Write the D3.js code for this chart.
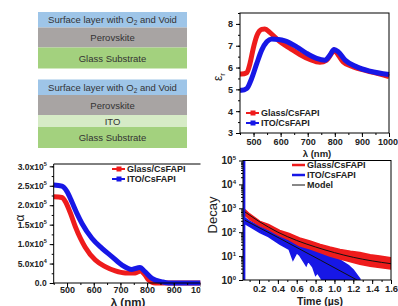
<!DOCTYPE html>
<html>
<head>
<meta charset="utf-8">
<script src="https://cdn.jsdelivr.net/npm/d3@7"></script>
<style>
  body { margin: 0; background: #fff; }
  svg text { font-family: "Liberation Sans", Arial, sans-serif; fill: #222; }
</style>
</head>
<body>
<script>
// ---- data ----
var stackA = ['surface', 'Perovskite', 'Glass Substrate'];
var stackB = ['surface', 'Perovskite', 'ITO', 'Glass Substrate'];

// permittivity, [wavelength nm, eps_r]
var epsGlass = [[450,5.70],[456,5.70],[475,5.76],[487,6.19],[499,6.88],[512,7.45],[530,7.75],[542,7.77],[561,7.60],
  [598,7.18],[635,6.88],[671,6.60],[708,6.37],[745,6.24],[770,6.34],[788,6.65],[797,6.80],[813,6.57],[831,6.26],
  [868,6.03],[918,5.85],[967,5.70],[1000,5.58]];
var epsIto = [[450,4.96],[456,4.96],[475,5.04],[493,5.50],[512,6.19],[530,6.80],[549,7.18],[567,7.31],[592,7.29],
  [616,7.22],[659,6.95],[696,6.65],[733,6.42],[764,6.34],[782,6.57],[797,6.83],[813,6.72],[838,6.34],[881,6.03],
  [930,5.83],[1000,5.68]];

// absorption coefficient, [wavelength nm, alpha]
var alphaGlass = [[450,2.22e5],[481,2.20e5],[494,2.09e5],[513,1.79e5],[531,1.45e5],[550,1.15e5],[568,0.92e5],
  [606,0.59e5],[643,0.42e5],[681,0.31e5],[718,0.26e5],[756,0.26e5],[775,0.31e5],[793,0.20e5],[805,0.08e5],
  [818,0.02e5],[831,0],[1000,0]];
var alphaIto = [[450,2.52e5],[481,2.49e5],[500,2.35e5],[518,2.09e5],[537,1.79e5],[556,1.53e5],[593,1.15e5],
  [631,0.89e5],[668,0.68e5],[706,0.46e5],[743,0.35e5],[773,0.40e5],[792,0.29e5],[818,0.12e5],[856,0.03e5],
  [881,0],[1000,0]];
var alphaTicks = [[0,'0.0',''],[5e4,'5.0x10','4'],[1e5,'1.0x10','5'],[1.5e5,'1.5x10','5'],
  [2e5,'2.0x10','5'],[2.5e5,'2.5x10','5'],[3e5,'3.0x10','5']];

// decay, [time us, low, high] envelopes of the noisy traces
var decayGlass = [[0.04,560,950],[0.1,340,580],[0.21,185,285],[0.3,130,210],[0.42,70,118],[0.52,48,88],
  [0.63,27,58],[0.74,20,43],[0.85,14,31],[0.95,10,24],[1.06,7.5,19],[1.17,5.8,16],[1.27,4.6,14],
  [1.38,3.8,11.5],[1.48,3.3,10],[1.6,2.9,8.5]];
var decayIto = [[0.04,240,420],[0.1,175,290],[0.21,96,170],[0.3,66,116],[0.42,32,70],[0.52,19,46],
  [0.56,7,41],[0.6,14,34],[0.63,11,30],[0.7,4,26],[0.72,6.3,25],[0.77,3.5,22],[0.8,1.6,20],[0.82,2,19],
  [0.87,1,16],[0.95,1,11],[1.06,1,6.8],[1.15,1,4],[1.2,1,2.6],[1.27,1,1.1]];
var modelGlass = [[0.05,708],[0.2,282],[0.4,100],[0.6,45],[0.8,24],[1.0,14],[1.2,8.9],[1.4,6.3],[1.6,4.8]];
var modelIto = [[0.05,316],[0.42,55],[0.85,6.8],[1.24,1]];

var red = '#ee1c1c', blue = '#1717e6';

var svg = d3.select('body').append('svg')
  .attr('width', 398).attr('height', 306);

// ---- layer stacks ----
var layerStyle = {
  'surface': { fill: '#9ec5e8', h: 15.5 },
  'Perovskite': { fill: '#a8a4a3', h: 20 },
  'ITO': { fill: '#d6ebc6', h: 12 },
  'Glass Substrate': { fill: '#a3d17e', h: 21 }
};

function drawStack(layers, top) {
  var g = svg.append('g');
  var y = top;
  layers.forEach(function(name) {
    var st = layerStyle[name];
    g.append('rect').attr('x', 38).attr('y', y).attr('width', 149).attr('height', st.h)
      .attr('fill', st.fill);
    var t = g.append('text').attr('x', 112.5).attr('y', y + st.h / 2 + 3.5)
      .attr('text-anchor', 'middle').attr('font-size', 9.5).style('fill', '#333');
    if (name == 'surface') {
      t.append('tspan').text('Surface layer with O');
      t.append('tspan').attr('font-size', 6.5).attr('dy', 2).text('2');
      t.append('tspan').attr('dy', -2).text(' and Void');
    } else {
      t.text(name);
    }
    y += st.h;
  });
}
drawStack(stackA, 12);
drawStack(stackB, 79.5);

// helper for minor + major ticks
function ticks(g, axis, scale, major, minor, fmt, size) {
  g.call(axis(scale).tickValues(minor).tickSize(2).tickFormat(''))
    .call(function(s) { s.select('.domain').remove(); });
  var m = g.append('g').call(axis(scale).tickValues(major).tickSize(size || 4)
    .tickSizeOuter(0).tickFormat(fmt));
  m.select('.domain').remove();
  return m;
}

function legend(g, x, y, color, label, marker) {
  g.append('line').attr('x1', x).attr('x2', x + 13).attr('y1', y).attr('y2', y)
    .attr('stroke', color).attr('stroke-width', marker ? 2 : 2.5);
  if (marker) {
    g.append('rect').attr('x', x + 4.5).attr('y', y - 2.5).attr('width', 5).attr('height', 5).attr('fill', color);
  }
  g.append('text').attr('x', x + 15).attr('y', y + 3.3).attr('font-size', 9)
    .attr('font-weight', 'bold').text(label);
}

var intFmt = d3.format('d');

// ---- eps_r panel ----
(function() {
  var g = svg.append('g');
  var x = d3.scaleLinear().domain([450, 1000]).range([240, 389]);
  var y = d3.scaleLinear().domain([3, 8.5]).range([133, 13]);
  var line = d3.line().x(function(d) { return x(d[0]); }).y(function(d) { return y(d[1]); })
    .curve(d3.curveMonotoneX);
  g.append('path').datum(epsGlass).attr('d', line).attr('fill', 'none')
    .attr('stroke', red).attr('stroke-width', 5).attr('stroke-linejoin', 'round');
  g.append('path').datum(epsIto).attr('d', line).attr('fill', 'none')
    .attr('stroke', blue).attr('stroke-width', 5).attr('stroke-linejoin', 'round');

  var xa = g.append('g').attr('transform', 'translate(0,133)');
  ticks(xa, d3.axisBottom, x, d3.range(500, 1001, 100), d3.range(450, 1001, 50), intFmt)
    .selectAll('text').attr('font-size', 9).attr('font-weight', 'bold').attr('dy', '0.6em')
    .attr('dx', function(d) { return d == 1000 ? -1.5 : 0; });
  var ya = g.append('g').attr('transform', 'translate(240,0)');
  ticks(ya, d3.axisLeft, y, d3.range(3, 9), d3.range(3, 8.6, 0.5), intFmt)
    .selectAll('text').attr('font-size', 9).attr('font-weight', 'bold');
  g.selectAll('.tick line').attr('stroke', '#000');
  g.append('rect').attr('x', 240).attr('y', 13).attr('width', 149).attr('height', 120)
    .attr('fill', 'none').attr('stroke', '#000');

  legend(g, 246, 113, red, 'Glass/CsFAPI', true);
  legend(g, 246, 123, blue, 'ITO/CsFAPI', true);

  var yl = g.append('text').attr('transform', 'translate(222,77) rotate(-90)')
    .attr('text-anchor', 'middle').attr('font-size', 12);
  yl.append('tspan').text('ε');
  yl.append('tspan').attr('font-size', 8).attr('dy', 3).text('r');
  g.append('text').attr('x', 317).attr('y', 157).attr('text-anchor', 'middle')
    .attr('font-size', 9.5).attr('font-weight', 'bold').text('λ (nm)');
})();

// ---- alpha panel ----
(function() {
  svg.append('clipPath').attr('id', 'clipA').append('rect')
    .attr('x', 0).attr('y', 150).attr('width', 200.5).attr('height', 156);
  var g = svg.append('g').attr('clip-path', 'url(#clipA)');
  var x = d3.scaleLinear().domain([450, 1000]).range([53.7, 200.5]);
  var y = d3.scaleLinear().domain([0, 3.06e5]).range([283, 164]);
  var line = d3.line().x(function(d) { return x(d[0]); }).y(function(d) { return y(d[1]); })
    .curve(d3.curveMonotoneX);
  g.append('path').datum(alphaGlass).attr('d', line).attr('fill', 'none')
    .attr('stroke', red).attr('stroke-width', 5).attr('stroke-linejoin', 'round');
  g.append('path').datum(alphaIto).attr('d', line).attr('fill', 'none')
    .attr('stroke', blue).attr('stroke-width', 5).attr('stroke-linejoin', 'round');

  var xa = g.append('g').attr('transform', 'translate(0,283)');
  ticks(xa, d3.axisBottom, x, d3.range(500, 1001, 100), d3.range(450, 1001, 50), intFmt)
    .selectAll('text').attr('font-size', 9).attr('font-weight', 'bold').attr('dy', '0.3em');
  var ya = g.append('g').attr('transform', 'translate(53.7,0)');
  var lbl = {};
  alphaTicks.forEach(function(t) { lbl[t[0]] = t; });
  var m = ticks(ya, d3.axisLeft, y, alphaTicks.map(function(t) { return t[0]; }), d3.range(0, 3.01e5, 2.5e4), function() { return ''; });
  m.selectAll('text').attr('font-size', 8.5).attr('font-weight', 'bold').each(function(v) {
    var t = d3.select(this);
    t.append('tspan').text(lbl[v][1]);
    if (lbl[v][2]) t.append('tspan').attr('font-size', 5.5).attr('dy', -4).text(lbl[v][2]);
  });
  g.selectAll('.tick line').attr('stroke', '#000');
  g.append('path').attr('d', 'M53.7,164H201M53.7,164V283H201')
    .attr('fill', 'none').attr('stroke', '#000');

  legend(g, 112, 169, red, 'Glass/CsFAPI', true);
  legend(g, 112, 179, blue, 'ITO/CsFAPI', true);

  g.append('text').attr('transform', 'translate(24,218) rotate(-90)')
    .attr('text-anchor', 'middle').attr('font-size', 12).text('α');
  g.append('text').attr('x', 128).attr('y', 305.5).attr('text-anchor', 'middle')
    .attr('font-size', 11.5).attr('font-weight', 'bold').text('λ (nm)');
})();

// ---- decay panel ----
(function() {
  svg.append('clipPath').attr('id', 'clipD').append('rect')
    .attr('x', 243).attr('y', 160.5).attr('width', 148).attr('height', 119.5);
  var g = svg.append('g');
  var x = d3.scaleLinear().domain([0.03, 1.6]).range([243, 391]);
  var y = d3.scaleLog().domain([1, 1e5]).range([280, 160.5]);
  var band = d3.area().x(function(d) { return x(d[0]); })
    .y0(function(d) { return y(d[1]); }).y1(function(d) { return y(d[2]); });
  var pl = g.append('g').attr('clip-path', 'url(#clipD)');
  pl.append('path').datum(decayIto).attr('d', band).attr('fill', blue)
    .attr('stroke', blue).attr('stroke-width', 1.5);
  pl.append('path').datum(decayGlass).attr('d', band).attr('fill', red)
    .attr('stroke', red).attr('stroke-width', 1.5);
  // instrument spikes at the start
  pl.append('line').attr('x1', x(0.03)).attr('x2', x(0.03)).attr('y1', y(1)).attr('y2', y(900))
    .attr('stroke', red).attr('stroke-width', 2);
  pl.append('line').attr('x1', x(0.042)).attr('x2', x(0.042)).attr('y1', y(1)).attr('y2', y(1e5))
    .attr('stroke', blue).attr('stroke-width', 2.5);
  var mline = d3.line().x(function(d) { return x(d[0]); }).y(function(d) { return y(d[1]); })
    .curve(d3.curveMonotoneX);
  pl.append('path').datum(modelGlass).attr('d', mline).attr('fill', 'none')
    .attr('stroke', '#111').attr('stroke-width', 1);
  pl.append('path').datum(modelIto).attr('d', mline).attr('fill', 'none')
    .attr('stroke', '#111').attr('stroke-width', 1);

  var xa = g.append('g').attr('transform', 'translate(0,280)');
  ticks(xa, d3.axisBottom, x, [0.2, 0.4, 0.6, 0.8, 1.0, 1.2, 1.4, 1.6], d3.range(0.1, 1.61, 0.1), d3.format('.1f'))
    .selectAll('text').attr('font-size', 9.5).attr('font-weight', 'bold').attr('dy', '0.5em');
  var ya = g.append('g').attr('transform', 'translate(243,0)');
  var minors = [];
  for (var e = 0; e < 5; e++) for (var k = 2; k < 10; k++) minors.push(k * Math.pow(10, e));
  var m = ticks(ya, d3.axisLeft, y, [1, 10, 100, 1e3, 1e4, 1e5], minors, function() { return ''; });
  m.selectAll('text').attr('font-size', 10).attr('font-weight', 'bold').each(function(v) {
    var t = d3.select(this);
    t.append('tspan').text('10');
    t.append('tspan').attr('font-size', 6).attr('dy', -4).text(Math.round(Math.log10(v)));
  });
  g.selectAll('.tick line').attr('stroke', '#000');
  g.append('rect').attr('x', 243).attr('y', 160.5).attr('width', 148).attr('height', 119.5)
    .attr('fill', 'none').attr('stroke', '#000');

  legend(g, 292, 165, red, 'Glass/CsFAPI', false);
  legend(g, 292, 175, blue, 'ITO/CsFAPI', false);
  g.append('line').attr('x1', 292).attr('x2', 305).attr('y1', 185).attr('y2', 185)
    .attr('stroke', '#111').attr('stroke-width', 1);
  g.append('text').attr('x', 307).attr('y', 188.3).attr('font-size', 9)
    .attr('font-weight', 'bold').text('Model');

  g.append('text').attr('transform', 'translate(217,215) rotate(-90)')
    .attr('text-anchor', 'middle').attr('font-size', 13).text('Decay');
  g.append('text').attr('x', 320).attr('y', 304.5).attr('text-anchor', 'middle')
    .attr('font-size', 10.5).attr('font-weight', 'bold').text('Time (µs)');
})();
</script>
</body>
</html>
